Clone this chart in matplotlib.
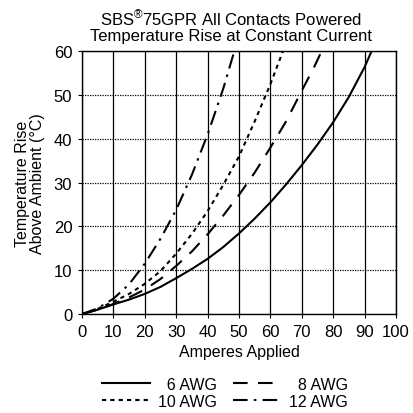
import matplotlib
matplotlib.use("Agg")
import matplotlib.pyplot as plt

plt.rcParams['font.family'] = ['Liberation Sans', 'DejaVu Sans']
plt.rcParams['mathtext.fontset'] = 'custom'
plt.rcParams['mathtext.rm'] = 'Liberation Sans'
plt.rcParams['mathtext.it'] = 'Liberation Sans'

# Data
awg6_x = [0, 5, 10, 15, 20, 25, 30, 35, 40, 45, 50, 55, 60, 65, 70, 75, 80, 85, 90, 92.2]
awg6_y = [0, 1.0, 2.2, 3.3, 4.6, 6.2, 8.2, 10.3, 12.6, 15.3, 18.4, 21.8, 25.5, 29.6, 34.0, 38.7, 43.8, 49.6, 56.4, 60]

awg8_x = [0, 5, 10, 15, 20, 25, 30, 35, 40, 45, 50, 55, 60, 65, 70, 74, 76.3]
awg8_y = [0, 1.0, 2.3, 3.8, 5.6, 8.0, 11.0, 14.3, 18.2, 22.5, 27.2, 32.3, 38.0, 44.0, 51.0, 56.5, 60]

awg10_x = [0, 5, 10, 15, 20, 25, 30, 35, 40, 45, 50, 55, 60, 64]
awg10_y = [0, 1.2, 2.8, 4.6, 6.9, 9.8, 13.8, 18.3, 23.5, 29.5, 36.0, 44.0, 52.5, 60]

awg12_x = [0, 5, 10, 15, 20, 25, 30, 35, 40, 45, 48.5]
awg12_y = [0, 1.3, 3.5, 6.8, 11.5, 17.2, 23.8, 31.8, 41.0, 51.5, 60]

series_labels = ['6 AWG', '8 AWG', '10 AWG', '12 AWG']
x_ticks = [0, 10, 20, 30, 40, 50, 60, 70, 80, 90, 100]
y_ticks = [0, 10, 20, 30, 40, 50, 60]

fig = plt.figure(figsize=(4.13, 4.14), dpi=100)
ax = fig.add_axes([0.1985, 0.239, 0.7605, 0.635])

lw = 1.5
l6, = ax.plot(awg6_x, awg6_y, color='black', lw=lw, linestyle='-')
l8, = ax.plot(awg8_x, awg8_y, color='black', lw=lw, linestyle=(0, (7, 5)))
l10, = ax.plot(awg10_x, awg10_y, color='black', lw=lw, linestyle=(0, (2, 2)))
l12, = ax.plot(awg12_x, awg12_y, color='black', lw=lw, linestyle=(0, (7, 3, 1.2, 3)))

ax.set_xlim(0, 100)
ax.set_ylim(0, 60)
ax.set_xticks(x_ticks)
ax.set_yticks(y_ticks)
ax.tick_params(axis='both', labelsize=12, length=3, width=0.8, direction='out', pad=4, colors='black')

ax.xaxis.grid(True, color='black', linewidth=0.9, linestyle='-')
ax.yaxis.grid(True, color='black', linewidth=0.9, linestyle=(0, (1, 1)))
ax.set_axisbelow(True)
for s in ax.spines.values():
    s.set_linewidth(1.0)
    s.set_color('black')

ax.set_xlabel('Amperes Applied', fontsize=11.5, labelpad=4)
ax.set_ylabel('Temperature Rise\nAbove Ambient (°C)', fontsize=11.5, labelpad=6, linespacing=1.0)

fig.text(0.56, 0.978, 'SBS$^{\u00ae}$75GPR All Contacts Powered\nTemperature Rise at Constant Current',
         ha='center', va='top', fontsize=12, linespacing=1.05)

fs = '\u2007'
leg_labels = [fs + series_labels[0], series_labels[2], fs + series_labels[1], series_labels[3]]
fig.legend(handles=[l6, l10, l8, l12], labels=leg_labels,
           loc='lower center', bbox_to_anchor=(0.545, -0.025), ncol=2, frameon=False,
           fontsize=11.5, handlelength=3.0, columnspacing=1.0, handletextpad=0.5,
           labelspacing=0.15)

fig.savefig('out.png', dpi=100)
